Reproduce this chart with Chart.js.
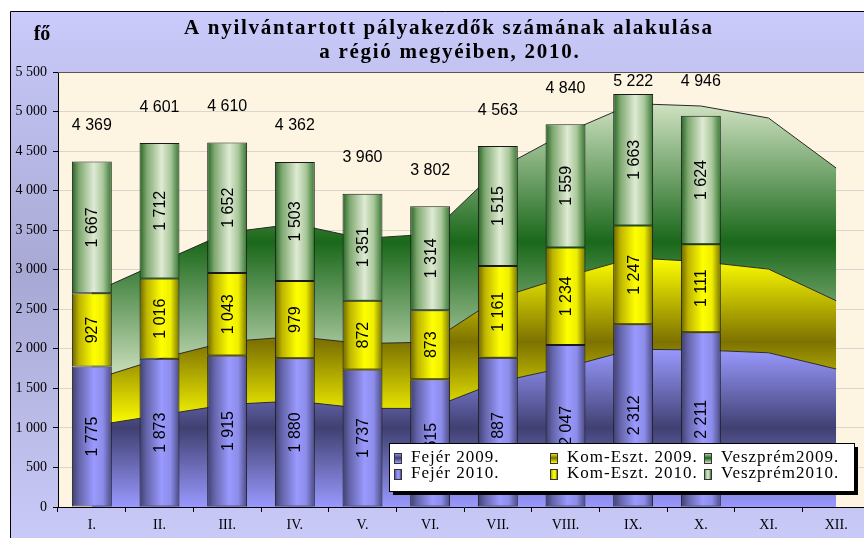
<!DOCTYPE html>
<html>
<head>
<meta charset="utf-8">
<script src="https://cdn.jsdelivr.net/npm/chart.js@4"></script>
<style>
html, body { margin: 0; padding: 0; overflow: hidden; background: #fff; }
#wrap { width: 880px; height: 538px; }
</style>
</head>
<body>
<div id="wrap"><canvas id="chart" width="880" height="538"></canvas></div>
<script>
// months on the x axis
const months = ['I.', 'II.', 'III.', 'IV.', 'V.', 'VI.', 'VII.', 'VIII.', 'IX.', 'X.', 'XI.', 'XII.'];

// 2010 (bars, Jan-Oct)
const fejer2010 = [1775, 1873, 1915, 1880, 1737, 1615, 1887, 2047, 2312, 2211];
const komEszt2010 = [927, 1016, 1043, 979, 872, 873, 1161, 1234, 1247, 1111];
const veszprem2010 = [1667, 1712, 1652, 1503, 1351, 1314, 1515, 1559, 1663, 1624];

// 2009 (stacked areas)
const fejer2009 = [1025, 1160, 1295, 1340, 1247, 1246, 1580, 1765, 1995, 1985, 1950, 1745];
const komEszt2009 = [580, 715, 795, 815, 820, 838, 1060, 1145, 1155, 1117, 1058, 863];
const veszprem2009 = [1100, 1215, 1380, 1423, 1328, 1366, 1630, 1820, 1950, 1968, 1910, 1678];

// y axis
const yMin = 0, yMax = 5500, yStep = 500;

const BAR_FRAC = 0.59;
const fmt = v => String(v).replace(/\B(?=(\d{3})+(?!\d))/g, ' ');

const cum1 = fejer2009;
const cum2 = fejer2009.map((v, i) => v + komEszt2009[i]);
const cum3 = cum2.map((v, i) => v + veszprem2009[i]);

// bar colours: horizontal bands, dark edges and light middle
const fejerBar = [[0, '#3f3f70'], [0.18, '#6464aa'], [0.55, '#9a9aff'], [0.78, '#8c8cea'], [1, '#4a4a82']];
const komBar = [[0, '#6a6200'], [0.18, '#bdb400'], [0.55, '#ffff00'], [0.78, '#eeee00'], [1, '#767000']];
const veszBar = [[0, '#256325'], [0.18, '#7fa870'], [0.55, '#dfebd4'], [0.78, '#a9c79a'], [1, '#357530']];

function barFill(stops) {
  return ctx => {
    const chart = ctx.chart;
    const x = chart.scales.x;
    if (!chart.chartArea || !x || ctx.dataIndex === undefined) return stops[2][1];
    const cx = x.getPixelForValue(ctx.dataIndex);
    const half = x.width / months.length * BAR_FRAC / 2;
    const g = chart.ctx.createLinearGradient(cx - half, 0, cx + half, 0);
    stops.forEach(s => g.addColorStop(s[0], s[1]));
    return g;
  };
}

// area colours: light top, dark middle, light bottom
function areaFill(topVals, botVals, light, dark) {
  return ctx => {
    const chart = ctx.chart;
    const y = chart.scales.y;
    if (!chart.chartArea || !y) return light;
    const top = y.getPixelForValue(Math.max(...topVals));
    const bot = y.getPixelForValue(Math.min(...botVals));
    const g = chart.ctx.createLinearGradient(0, top, 0, bot);
    g.addColorStop(0, light);
    g.addColorStop(0.5, dark);
    g.addColorStop(1, light);
    return g;
  };
}

const areaStyle = { type: 'line', order: 2, pointRadius: 0, borderWidth: 1, borderColor: '#2a2a2a', tension: 0, stack: 'y2009' };
const barStyle = { type: 'bar', order: 1, borderWidth: 1, borderColor: '#1a1a1a', borderSkipped: false, stack: 'y2010', barPercentage: BAR_FRAC, categoryPercentage: 1 };

const datasets = [
  Object.assign({ label: 'Fejér 2009.', data: fejer2009, fill: 'origin',
    backgroundColor: areaFill(cum1, [0], '#9999ff', '#404072') }, areaStyle),
  Object.assign({ label: 'Kom-Eszt. 2009.', data: komEszt2009, fill: '-1',
    backgroundColor: areaFill(cum2, cum1, '#ffff00', '#7d7200') }, areaStyle),
  Object.assign({ label: 'Veszprém2009.', data: veszprem2009, fill: '-1',
    backgroundColor: areaFill(cum3, cum2, '#d0e2c2', '#1a681a') }, areaStyle),
  Object.assign({ label: 'Fejér 2010.', data: fejer2010, backgroundColor: barFill(fejerBar) }, barStyle),
  Object.assign({ label: 'Kom-Eszt. 2010.', data: komEszt2010, backgroundColor: barFill(komBar) }, barStyle),
  Object.assign({ label: 'Veszprém2010.', data: veszprem2010, backgroundColor: barFill(veszBar) }, barStyle)
];

function fitText(c, text, x, y, width) {
  c.letterSpacing = '0px';
  const w0 = c.measureText(text).width;
  const sp = Math.max(0, (width - w0) / (text.length - 1));
  c.letterSpacing = sp + 'px';
  c.fillText(text, x + sp / 2, y);
  c.letterSpacing = '0px';
  return sp;
}

const decor = {
  id: 'decor',
  beforeDraw(chart) {
    const c = chart.ctx, a = chart.chartArea;
    c.save();
    c.fillStyle = '#fff';
    c.fillRect(0, 0, chart.width, chart.height);
    const g = c.createLinearGradient(0, 11, 0, chart.height);
    g.addColorStop(0, '#cbcbfb');
    g.addColorStop(0.5, '#a8a8d4');
    g.addColorStop(1, '#cacaf8');
    c.fillStyle = g;
    c.fillRect(10, 11, chart.width, chart.height);
    c.strokeStyle = '#000';
    c.lineWidth = 1;
    c.beginPath();
    c.moveTo(10.5, chart.height);
    c.lineTo(10.5, 11.5);
    c.lineTo(chart.width, 11.5);
    c.stroke();
    c.fillStyle = '#fdf5e1';
    c.fillRect(a.left, a.top, a.right - a.left, a.bottom - a.top);
    c.restore();
  },
  afterDatasetsDraw(chart) {
    const c = chart.ctx, a = chart.chartArea;
    c.save();
    c.fillStyle = '#000';
    c.font = '16px "Liberation Sans", Arial, sans-serif';
    c.textAlign = 'center';
    c.textBaseline = 'middle';
    // values inside the bar segments
    [3, 4, 5].forEach(di => {
      const meta = chart.getDatasetMeta(di);
      meta.data.forEach((el, i) => {
        const v = chart.data.datasets[di].data[i];
        if (v == null) return;
        c.save();
        c.translate(el.x, (el.y + el.base) / 2);
        c.rotate(-Math.PI / 2);
        c.fillText(fmt(v), 0, 1);
        c.restore();
      });
    });
    // totals above bars
    const top = chart.getDatasetMeta(5);
    top.data.forEach((el, i) => {
      const total = fejer2010[i] + komEszt2010[i] + veszprem2010[i];
      const y = Math.max(el.y - 36, a.top + 10);
      c.fillText(fmt(total), el.x, y);
    });
    c.restore();
  },
  afterDraw(chart) {
    const c = chart.ctx, a = chart.chartArea;
    c.save();
    // plot top border
    c.strokeStyle = '#555';
    c.lineWidth = 1;
    c.beginPath();
    c.moveTo(a.left, a.top + 0.5);
    c.lineTo(a.right, a.top + 0.5);
    c.stroke();

    // title
    c.fillStyle = '#000';
    c.textAlign = 'center';
    c.textBaseline = 'middle';
    c.font = 'bold 21px "Liberation Serif", "Times New Roman", serif';
    const sp = fitText(c, 'A nyilvántartott pályakezdők számának alakulása', 448, 29, 528);
    c.letterSpacing = sp + 'px';
    c.fillText('a régió megyéiben, 2010.', 449 + sp / 2, 53);
    c.letterSpacing = '0px';
    c.font = 'bold 20px "Liberation Serif", "Times New Roman", serif';
    c.fillText('fő', 42, 35);

    // legend
    const lx = 389, ly = 443, lw = 465, lh = 48;
    c.fillStyle = '#000';
    c.fillRect(lx + 4, ly + 4, lw, lh);
    c.fillStyle = '#fff';
    c.fillRect(lx, ly, lw, lh);
    c.strokeStyle = '#000';
    c.strokeRect(lx + 0.5, ly + 0.5, lw, lh);
    const colX = [394, 550, 704];
    const rowY = [457, 473];
    const barStops = [fejerBar, komBar, veszBar];
    const areaCols = [['#9999ff', '#404072'], ['#ffff00', '#7d7200'], ['#d0e2c2', '#1a681a']];
    c.font = '17px "Liberation Serif", "Times New Roman", serif';
    c.textAlign = 'left';
    for (let r = 0; r < 2; r++) {
      for (let k = 0; k < 3; k++) {
        const ds = chart.data.datasets[r * 3 + k];
        const mx = colX[k], my = rowY[r] - 4;
        let g;
        if (r === 0) {
          g = c.createLinearGradient(0, my, 0, my + 10);
          g.addColorStop(0, areaCols[k][0]);
          g.addColorStop(0.5, areaCols[k][1]);
          g.addColorStop(1, areaCols[k][0]);
        } else {
          g = c.createLinearGradient(mx, 0, mx + 7, 0);
          barStops[k].forEach(s => g.addColorStop(s[0], s[1]));
        }
        c.fillStyle = g;
        c.fillRect(mx, my, 7, 10);
        c.strokeStyle = '#333';
        c.strokeRect(mx + 0.5, my + 0.5, 7, 10);
        c.fillStyle = '#000';
        c.letterSpacing = '1px';
        c.fillText(ds.label, mx + 17, rowY[r] + 1);
        c.letterSpacing = '0px';
      }
    }
    c.restore();
  }
};

new Chart(document.getElementById('chart').getContext('2d'), {
  type: 'bar',
  data: { labels: months, datasets: datasets },
  options: {
    responsive: false,
    animation: false,
    layout: { padding: { left: 10, top: 72, right: 10, bottom: 0 } },
    plugins: {
      legend: { display: false },
      title: { display: false },
      tooltip: { enabled: false }
    },
    scales: {
      x: {
        stacked: true,
        afterFit: s => { s.height = 31; },
        grid: { drawOnChartArea: false, color: '#000', tickLength: 5, offset: true },
        border: { color: '#000', width: 1 },
        ticks: { color: '#000', padding: 5, font: { family: '"Liberation Serif", "Times New Roman", serif', size: 14 } }
      },
      y: {
        stacked: true,
        min: yMin,
        max: yMax,
        afterFit: s => { s.width = 48; },
        grid: { color: '#d9d5cf', tickColor: '#000', tickLength: 5 },
        border: { color: '#000', width: 1 },
        ticks: {
          stepSize: yStep,
          color: '#000',
          padding: 6,
          font: { family: '"Liberation Serif", "Times New Roman", serif', size: 14 },
          callback: v => fmt(v)
        }
      }
    }
  },
  plugins: [decor]
});
</script>
</body>
</html>
